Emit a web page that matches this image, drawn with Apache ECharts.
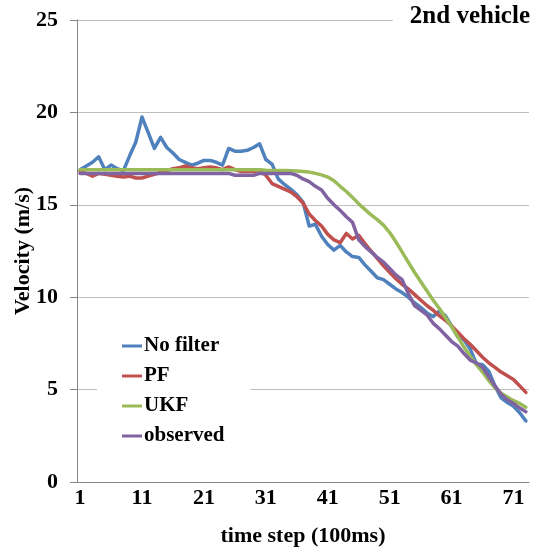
<!DOCTYPE html>
<html>
<head>
<meta charset="utf-8">
<script src="https://cdn.jsdelivr.net/npm/echarts@6/dist/echarts.min.js"></script>
<style>
  html, body { margin: 0; padding: 0; background: #ffffff; }
  #chart { width: 534px; height: 552px; }
</style>
</head>
<body>
<div id="chart"></div>
<script>
// Time steps (100 ms each)
var timeSteps = ['1','2','3','4','5','6','7','8','9','10',
  '11','12','13','14','15','16','17','18','19','20',
  '21','22','23','24','25','26','27','28','29','30',
  '31','32','33','34','35','36','37','38','39','40',
  '41','42','43','44','45','46','47','48','49','50',
  '51','52','53','54','55','56','57','58','59','60',
  '61','62','63','64','65','66','67','68','69','70',
  '71','72','73'];

// Velocity of the 2nd vehicle (m/s)
var noFilter = [16.9, 17.1, 17.3, 17.6, 16.9, 17.15, 16.95, 16.85, 17.65, 18.4,
  19.75, 18.9, 18.05, 18.65, 18.1, 17.8, 17.45, 17.3, 17.15, 17.25,
  17.4, 17.4, 17.3, 17.15, 18.05, 17.9, 17.9, 17.95, 18.1, 18.3,
  17.45, 17.2, 16.4, 16.1, 15.85, 15.55, 15.15, 13.85, 13.95, 13.3,
  12.85, 12.55, 12.8, 12.45, 12.2, 12.15, 11.75, 11.4, 11.05, 10.95,
  10.7, 10.45, 10.25, 10.0, 9.7, 9.45, 9.15, 8.95, 9.25, 9.0,
  8.45, 7.85, 7.7, 7.2, 6.4, 6.35, 6.0, 5.2, 4.55, 4.3,
  4.1, 3.75, 3.3];

var pf = [16.8, 16.7, 16.55, 16.7, 16.65, 16.6, 16.55, 16.5, 16.55, 16.45,
  16.45, 16.55, 16.65, 16.75, 16.85, 16.95, 17.0, 17.1, 17.0, 16.95,
  17.0, 17.05, 17.0, 16.9, 17.05, 16.9, 16.8, 16.8, 16.8, 16.85,
  16.6, 16.15, 16.0, 15.85, 15.7, 15.45, 15.1, 14.5, 14.15, 13.85,
  13.4, 13.1, 12.95, 13.45, 13.15, 13.35, 12.9, 12.5, 12.1, 11.7,
  11.35, 11.0, 10.7, 10.45, 10.15, 9.85, 9.55, 9.3, 9.0, 8.75,
  8.45, 8.1, 7.75, 7.45, 7.1, 6.75, 6.45, 6.2, 5.95, 5.75,
  5.55, 5.2, 4.85];

var ukf = [16.9, 16.9, 16.9, 16.9, 16.9, 16.9, 16.9, 16.9, 16.9, 16.9,
  16.9, 16.9, 16.9, 16.9, 16.9, 16.9, 16.9, 16.9, 16.9, 16.9,
  16.9, 16.9, 16.9, 16.9, 16.9, 16.9, 16.9, 16.9, 16.9, 16.9,
  16.87, 16.86, 16.85, 16.85, 16.84, 16.83, 16.8, 16.77, 16.7, 16.62,
  16.5, 16.3, 16.0, 15.72, 15.4, 15.05, 14.75, 14.45, 14.2, 13.9,
  13.5, 13.0, 12.45, 11.9, 11.35, 10.85, 10.35, 9.85, 9.4, 8.9,
  8.4, 7.85, 7.3, 6.8, 6.35, 5.95, 5.5, 5.1, 4.8, 4.6,
  4.4, 4.25, 4.05];

var observed = [16.7, 16.7, 16.7, 16.7, 16.7, 16.7, 16.7, 16.7, 16.7, 16.7,
  16.7, 16.7, 16.7, 16.7, 16.7, 16.7, 16.7, 16.7, 16.7, 16.7,
  16.7, 16.7, 16.7, 16.7, 16.7, 16.6, 16.6, 16.6, 16.6, 16.7,
  16.7, 16.7, 16.7, 16.7, 16.7, 16.6, 16.4, 16.25, 16.0, 15.8,
  15.35, 15.0, 14.7, 14.35, 14.05, 13.1, 12.75, 12.45, 12.15, 11.9,
  11.55, 11.2, 10.95, 10.2, 9.55, 9.3, 9.05, 8.6, 8.3, 7.95,
  7.6, 7.35, 6.95, 6.6, 6.45, 6.2, 5.7, 5.2, 4.75, 4.45,
  4.25, 4.0, 3.8];

var seriesNames = ['No filter', 'PF', 'UKF', 'observed'];
var seriesColors = ['#4F81BD', '#C0504D', '#9BBB59', '#8064A2'];
var seriesData = [noFilter, pf, ukf, observed];

var FONT = '"Liberation Serif", "Times New Roman", serif';

var chart = echarts.init(document.getElementById('chart'), null, { renderer: 'canvas' });

chart.setOption({
  animation: false,
  backgroundColor: '#ffffff',
  title: {
    text: '2nd vehicle',
    right: 2,
    top: 1,
    padding: [3, 2, 3, 17],
    backgroundColor: '#ffffff',
    textStyle: { fontFamily: FONT, fontWeight: 'bold', fontSize: 25, color: '#000000' }
  },
  legend: {
    orient: 'vertical',
    left: 97,
    top: 325,
    padding: [10, 26, 10, 25],
    backgroundColor: '#ffffff',
    itemWidth: 20,
    itemHeight: 3,
    itemGap: 8,
    icon: 'rect',
    data: seriesNames,
    textStyle: { fontFamily: FONT, fontWeight: 'bold', fontSize: 21, lineHeight: 22, color: '#000000', padding: [0, 0, 0, -3] }
  },
  grid: { left: 77, right: 5, top: 20, bottom: 70, containLabel: false, outerBoundsMode: 'none' },
  xAxis: {
    type: 'category',
    data: timeSteps,
    boundaryGap: true,
    name: 'time step (100ms)',
    nameLocation: 'middle',
    nameGap: 43,
    nameMoveOverlap: false,
    nameTextStyle: { fontFamily: FONT, fontWeight: 'bold', fontSize: 22, color: '#000000' },
    axisLine: { lineStyle: { color: '#868686', width: 1 } },
    axisTick: { show: false },
    axisLabel: { interval: 9, margin: 5, fontFamily: FONT, fontWeight: 'bold', fontSize: 22, color: '#000000' },
    splitLine: { show: false }
  },
  yAxis: {
    type: 'value',
    min: 0,
    max: 25,
    interval: 5,
    name: 'Velocity (m/s)',
    nameLocation: 'middle',
    nameGap: 43,
    nameMoveOverlap: false,
    nameTextStyle: { fontFamily: FONT, fontWeight: 'bold', fontSize: 22, color: '#000000' },
    axisLine: { show: true, lineStyle: { color: '#868686', width: 1 } },
    axisTick: { show: true, length: 7, lineStyle: { color: '#868686' } },
    axisLabel: { margin: 19, fontFamily: FONT, fontWeight: 'bold', fontSize: 22, color: '#000000' },
    splitLine: { show: true, lineStyle: { color: '#bfbfbf', width: 1 } }
  },
  series: seriesNames.map(function (name, i) {
    return {
      name: name,
      type: 'line',
      data: seriesData[i],
      showSymbol: false,
      symbol: 'none',
      smooth: false,
      color: seriesColors[i],
      lineStyle: { width: 3.5, color: seriesColors[i], join: 'round', cap: 'round' },
      z: 2 + i
    };
  })
});
</script>
</body>
</html>
